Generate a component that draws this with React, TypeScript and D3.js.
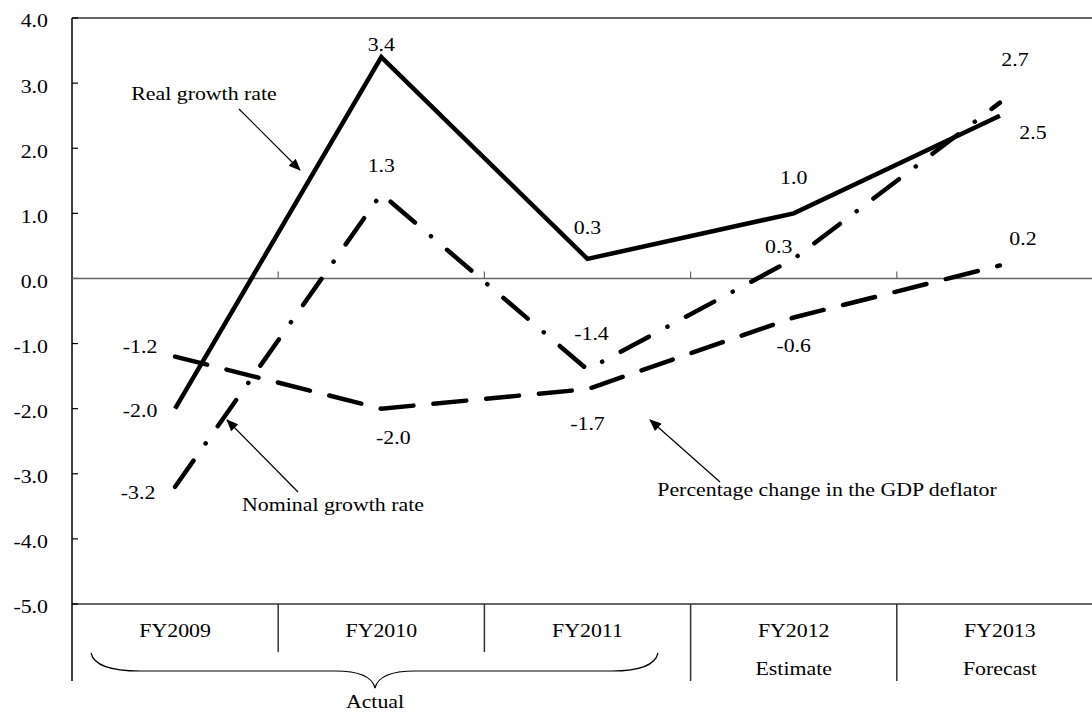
import React from 'react';
import * as d3 from 'd3';

// chart values
const categories = ['FY2009', 'FY2010', 'FY2011', 'FY2012', 'FY2013'];
const subLabels = ['', '', '', 'Estimate', 'Forecast'];
const realGrowth = [-2.0, 3.4, 0.3, 1.0, 2.5];
const nominalGrowth = [-3.2, 1.3, -1.4, 0.3, 2.7];
const deflatorChange = [-1.2, -2.0, -1.7, -0.6, 0.2];
const yTicks = [4, 3, 2, 1, 0, -1, -2, -3, -4, -5];

// where each value label sits relative to its point (px)
const realOffsets = [[-35, 2], [0, -13], [0, -31], [0, -36], [33, 17]];
const nominalOffsets = [[-37, 6], [0, -28], [4, -36], [-15, -12], [15, -43]];
const deflatorOffsets = [[-35, -10], [12, 29], [0, 34], [0, 28], [23, -27]];

const W = 1092;
const H = 713;
const FONT = "'Liberation Serif', 'Times New Roman', serif";
const SX = 1.15; // the reference text is a bit wider than tall

const Txt: React.FC<{ x: number; y: number; anchor?: string; size?: number; weight?: string; children: React.ReactNode }> = ({
  x, y, anchor = 'middle', size = 19, weight = 'normal', children,
}) => (
  <text
    transform={`translate(${x},${y}) scale(${SX},1)`}
    textAnchor={anchor}
    dominantBaseline="central"
    fontSize={size}
    fontWeight={weight}
    fontFamily={FONT}
    fill="#000"
  >
    {children}
  </text>
);

const App: React.FC = () => {
  const left = 72;
  const band = 206.2;
  const top = 18;
  const bottom = 604;

  const x = d3.scaleBand<string>().domain(categories).range([left, left + band * categories.length]);
  const y = d3.scaleLinear().domain([-5, 4]).range([bottom, top]);
  const cx = (c: string) => (x(c) as number) + x.bandwidth() / 2;

  const line = d3.line<number>()
    .x((_, i) => cx(categories[i]))
    .y(d => y(d));

  const series = [
    { values: realGrowth, offsets: realOffsets, dash: 'none', cap: 'butt' },
    { values: nominalGrowth, offsets: nominalOffsets, dash: '32,21,0.1,21', cap: 'round' },
    { values: deflatorChange, offsets: deflatorOffsets, dash: '33,20', cap: 'round' },
  ];

  const boundaries = categories.map(c => x(c) as number).concat([left + band * categories.length]);

  return (
    <div style={{ position: 'fixed', left: 0, top: 0, width: W, height: H, overflow: 'hidden', background: '#fff' }}>
      <svg width={W} height={H} style={{ display: 'block' }}>
        <defs>
          <marker id="arrow" viewBox="0 0 12 10" refX="11" refY="5" markerWidth="13" markerHeight="10"
            markerUnits="userSpaceOnUse" orient="auto">
            <path d="M0,0 L12,5 L0,10 z" fill="#000" />
          </marker>
        </defs>

        {/* title, almost entirely above the visible area */}
        <text x={0} y={0} textAnchor="end" fontSize={19} fontWeight="bold" fontFamily={FONT}
          transform={`translate(726,-5) scale(${SX},1)`}>
          Real and nominal growth rates, percent (%)
        </text>

        {/* plot frame */}
        <line x1={left} x2={W} y1={top} y2={top} stroke="#333" strokeWidth={1.5} />
        <line x1={left} x2={W} y1={bottom} y2={bottom} stroke="#333" strokeWidth={1.5} />
        <line x1={left} x2={left} y1={top} y2={681} stroke="#000" strokeWidth={1.5} />

        {/* y ticks and labels */}
        {yTicks.map(t => (
          <g key={t}>
            <line x1={left} x2={left + 6} y1={y(t)} y2={y(t)} stroke="#000" strokeWidth={1.2} />
            <Txt x={48} y={y(t) + 3} anchor="end">{t.toFixed(1)}</Txt>
          </g>
        ))}

        {/* zero line with small ticks at category boundaries */}
        <line x1={left} x2={W} y1={y(0)} y2={y(0)} stroke="#666" strokeWidth={1.5} />
        {boundaries.slice(1).map((b, i) => (
          <line key={i} x1={b} x2={b} y1={y(0)} y2={y(0) - 7} stroke="#666" strokeWidth={1.2} />
        ))}

        {/* category table */}
        {boundaries.slice(1).map((b, i) => (
          <line key={i} x1={b} x2={b} y1={bottom} y2={i < 2 ? 652 : 681} stroke="#333" strokeWidth={1.5} />
        ))}
        {categories.map((c, i) => (
          <g key={c}>
            <Txt x={cx(c)} y={631}>{c}</Txt>
            {subLabels[i] && <Txt x={cx(c)} y={669}>{subLabels[i]}</Txt>}
          </g>
        ))}

        {/* brace over the actual years */}
        <path
          d="M91,653 Q95,671 140,671 L335,671 Q371,671 375,688 Q379,671 415,671 L612,671 Q654,671 658,653"
          fill="none" stroke="#000" strokeWidth={1.2}
        />
        <Txt x={375} y={702}>Actual</Txt>

        {/* series */}
        {series.map((s, k) => (
          <path key={k} d={line(s.values) as string} fill="none" stroke="#000" strokeWidth={4.5}
            strokeDasharray={s.dash} strokeLinecap={s.cap as any} strokeLinejoin="miter" />
        ))}
        {series.map((s, k) =>
          s.values.map((v, i) => (
            <Txt key={`${k}-${i}`} x={cx(categories[i]) + s.offsets[i][0]} y={y(v) + s.offsets[i][1]}>
              {v.toFixed(1)}
            </Txt>
          )),
        )}

        {/* annotations */}
        <Txt x={204} y={94}>Real growth rate</Txt>
        <line x1={239} y1={109} x2={300} y2={170} stroke="#000" strokeWidth={1.2} markerEnd="url(#arrow)" />

        <Txt x={333} y={505}>Nominal growth rate</Txt>
        <line x1={298} y1={492} x2={227} y2={420} stroke="#000" strokeWidth={1.2} markerEnd="url(#arrow)" />

        <Txt x={827} y={490}>Percentage change in the GDP deflator</Txt>
        <line x1={720} y1={482} x2={650} y2={420} stroke="#000" strokeWidth={1.2} markerEnd="url(#arrow)" />
      </svg>
    </div>
  );
};

export default App;
